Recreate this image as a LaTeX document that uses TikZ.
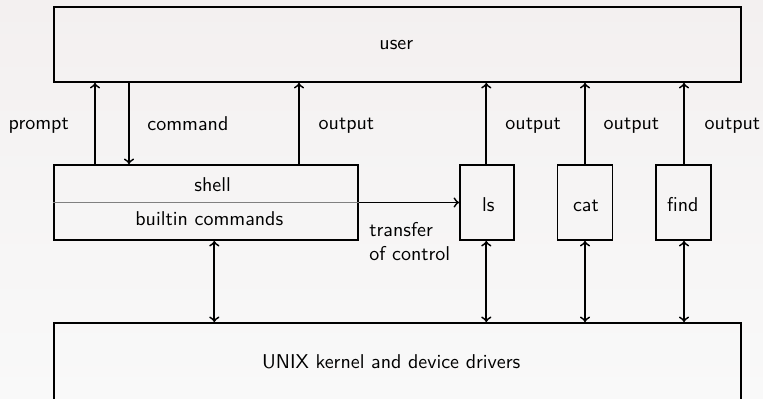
\documentclass[tikz,border=0pt]{standalone}
\usepackage{fontspec}
\usetikzlibrary{calc}
\definecolor{bgtop}{RGB}{243,240,240}
\definecolor{bgbot}{RGB}{249,249,249}
\begin{document}
\begin{tikzpicture}[x=0.5pt,y=-0.5pt,
  every node/.style={font=\sffamily\fontsize{10}{12}\selectfont},
  box/.style={draw, line width=0.9pt, inner sep=0pt, rectangle},
  lbl/.style={inner sep=0pt, anchor=base west},
  conn/.style={line width=0.9pt},
  divider/.style={draw=gray, line width=0.5pt}]
\useasboundingbox (0,0) rectangle (763,399);
\clip (0,0) rectangle (763,399);
\shade[top color=bgtop, bottom color=bgbot] (0,0) rectangle (763,399);

% boxes
\node[box, minimum width=343.5pt, minimum height=37.5pt] (user) at (397.5,44.5) {};
\node[box, minimum width=152pt, minimum height=37.5pt] (shell) at (206,202.5) {};
\node[box, minimum width=27pt, minimum height=37.5pt] (ls) at (487,202.5) {};
\node[box, minimum width=27.5pt, minimum height=37.5pt] (cat) at (585,202.5) {};
\node[box, minimum width=27.5pt, minimum height=37.5pt] (find) at (683.5,202.5) {};
\node[box, minimum width=343.5pt, minimum height=43.5pt] (kernel) at (397.5,366.5) {};
\draw[divider] (shell.west) -- (shell.east);

% texts
\node[lbl] (tuser) at (379,50) {user};
\node[lbl] (tshell) at (194,191.5) {shell};
\node[lbl] (tbuiltin) at (135,226) {builtin commands};
\node[lbl] (tls) at (481.7,211.5) {ls};
\node[lbl] (tcat) at (572.7,211.5) {cat};
\node[lbl] (tfind) at (666.7,211.5) {find};
\node[lbl] (tkernel) at (261.7,369) {UNIX kernel and device drivers};
\node[lbl] (tprompt) at (8.3,130) {prompt};
\node[lbl] (tcommand) at (147,130.5) {command};
\node[lbl] (tout1) at (318.3,130) {output};
\node[lbl] (tout2) at (505,129.5) {output};
\node[lbl] (tout3) at (603.3,129.5) {output};
\node[lbl] (tout4) at (704.3,129.5) {output};
\node[lbl] (ttransfer) at (369,236.5) {transfer};
\node[lbl] (tcontrol) at (369,260.5) {of control};

% x positions of connectors
\coordinate (xprompt) at (95,0);
\coordinate (xcommand) at (129,0);
\coordinate (xout) at (299,0);
\coordinate (xsk) at (214.3,0);
\coordinate (xls) at (486.3,0);
\coordinate (xcat) at (585,0);
\coordinate (xfind) at (684,0);

% connectors
\draw[conn,->] (xprompt |- shell.north) -- (xprompt |- user.south);
\draw[conn,->] (xcommand |- user.south) -- (xcommand |- shell.north);
\draw[conn,->] (xout |- shell.north) -- (xout |- user.south);
\draw[conn,->] (xls |- ls.north) -- (xls |- user.south);
\draw[conn,->] (xcat |- cat.north) -- (xcat |- user.south);
\draw[conn,->] (xfind |- find.north) -- (xfind |- user.south);
\draw[conn,->] (shell.east) -- (ls.west);
\draw[conn,<->] (xsk |- shell.south) -- (xsk |- kernel.north);
\draw[conn,<->] (xls |- ls.south) -- (xls |- kernel.north);
\draw[conn,<->] (xcat |- cat.south) -- (xcat |- kernel.north);
\draw[conn,<->] (xfind |- find.south) -- (xfind |- kernel.north);
\end{tikzpicture}
\end{document}
